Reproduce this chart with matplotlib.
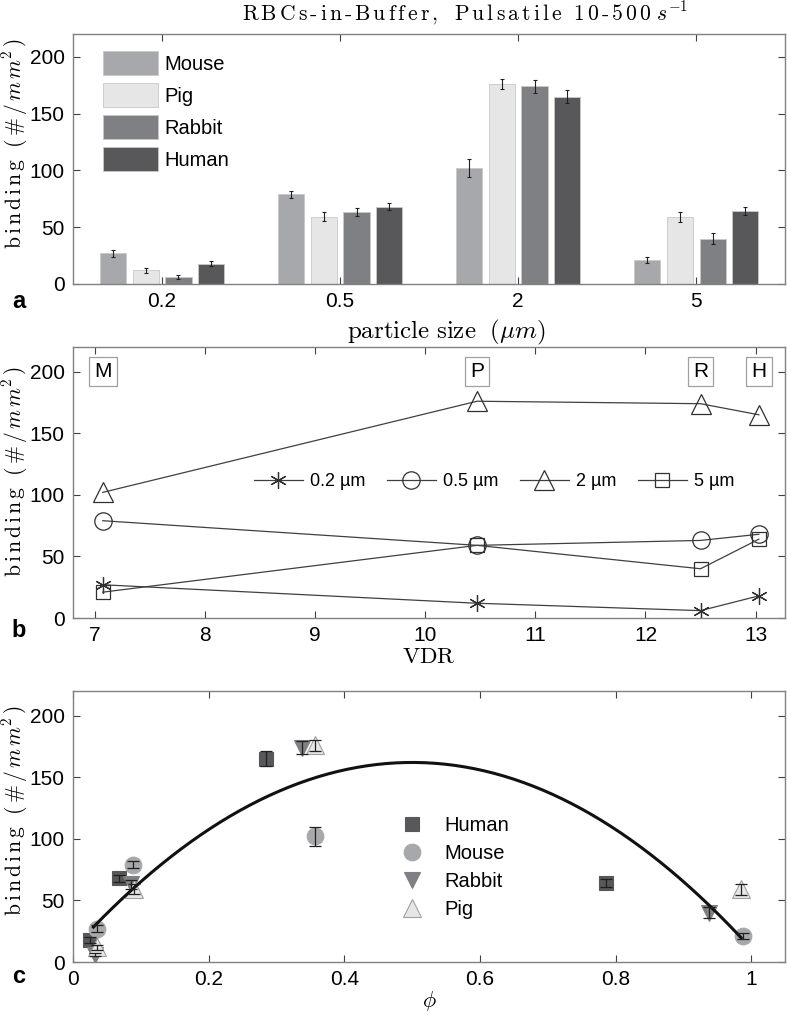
import numpy as np
import matplotlib.pyplot as plt

plt.rcParams['font.family'] = ['Liberation Sans', 'DejaVu Sans']
plt.rcParams['mathtext.fontset'] = 'cm'

# data (order of particle sizes: 0.2, 0.5, 2, 5 um)
sizes = ['0.2', '0.5', '2', '5']
species = ['Mouse', 'Pig', 'Rabbit', 'Human']
mouse = [27, 79, 102, 21]
pig = [12, 59, 176, 59]
rabbit = [6, 63, 174, 40]
human = [18, 68, 165, 64]
mouse_err = [3, 3, 8, 2.5]
pig_err = [2, 4, 4.5, 4.5]
rabbit_err = [1.5, 3.5, 5.5, 4.5]
human_err = [2.5, 3, 6, 3.5]

# VDR of each species (M, P, R, H)
vdr_labels = ['M', 'P', 'R', 'H']
vdr = [7.07, 10.47, 12.5, 13.03]

# phi per species and particle size
mouse_phi = [0.035, 0.088, 0.357, 0.987]
pig_phi = [0.036, 0.09, 0.357, 0.985]
rabbit_phi = [0.033, 0.085, 0.338, 0.938]
human_phi = [0.025, 0.068, 0.284, 0.785]

# quadratic fit (binding = a*phi^2 + b*phi + c)
fit_coef = [-605, 605, 10.75]
fit_range = [0.03, 0.985]

colors = {'Mouse': '#a7a8ab', 'Pig': '#e6e6e6', 'Rabbit': '#7f8084', 'Human': '#58585a'}
vals = {'Mouse': mouse, 'Pig': pig, 'Rabbit': rabbit, 'Human': human}
errs = {'Mouse': mouse_err, 'Pig': pig_err, 'Rabbit': rabbit_err, 'Human': human_err}
phis = {'Mouse': mouse_phi, 'Pig': pig_phi, 'Rabbit': rabbit_phi, 'Human': human_phi}

spine_col = '#808080'


def spaced(text, gap=r'\,'):
    # letter-spaced roman text for mathtext
    words = []
    for w in text.split(' '):
        words.append(gap.join(r'\text{-}' if c == '-' else c for c in w))
    return r'\ \ '.join(words)


ylab = r'$\mathrm{' + spaced('binding') + r'}\ \ (\,\#\,/\,m\,m^2\,)$'


def style(ax, ly):
    for s in ax.spines.values():
        s.set_color(spine_col)
        s.set_linewidth(1.0)
    ax.tick_params(direction='in', top=True, right=True, length=5,
                   color='#404040', labelsize=15, pad=6)
    ax.set_ylim(0, 220)
    ax.set_yticks([0, 50, 100, 150, 200])
    ax.set_ylabel(ylab, fontsize=15.5)
    ax.yaxis.set_label_coords(-0.061, ly)


fig = plt.figure(figsize=(7.87, 10.15), dpi=100)

# ---- panel a
ax1 = fig.add_axes([0.0928, 0.7202, 0.905, 0.2463])
x = np.arange(1, 5)
w = 0.147
step = 0.184
for i, sp in enumerate(species):
    pos = x + (i - 1.5) * step
    ax1.bar(pos, vals[sp], w, color=colors[sp], edgecolor='#c8c8c8',
            linewidth=0.6, label=sp)
    ax1.errorbar(pos, vals[sp], yerr=errs[sp], fmt='none', ecolor='#202020',
                 elinewidth=0.8, capsize=1.5, capthick=0.8)
ax1.set_xlim(0.5, 4.5)
ax1.set_xticks(x)
ax1.set_xticklabels(sizes)
style(ax1, 0.562)
ax1.set_xlabel(r'$\mathrm{particle\ size}\ \ (\mu m)$', fontsize=18, labelpad=0)
ax1.xaxis.set_label_coords(0.524, -0.135)
ax1.set_title(r'$\mathrm{' + spaced('RBCs-in-Buffer, Pulsatile 10-500') + r'}\ s^{-1}$',
              fontsize=15.5, pad=10, x=0.55)
ax1.legend(loc='upper left', frameon=False, fontsize=14.5, handlelength=2.75,
           handleheight=1.45, labelspacing=0.4, handletextpad=0.3,
           borderaxespad=0, borderpad=0, bbox_to_anchor=(30 / 712, 1 - 17 / 250))
fig.text(0.015, 0.697, 'a', fontsize=17, fontweight='bold')

# ---- panel b
ax2 = fig.add_axes([0.0928, 0.3911, 0.905, 0.267])
markers_b = [(6, 2, 0), 'o', '^', 's']
msizes = [12, 12.5, 14.5, 10]
for j, s in enumerate(sizes):
    yv = [vals[sp][j] for sp in ['Mouse', 'Pig', 'Rabbit', 'Human']]
    ax2.plot(vdr, yv, color='#404040', lw=0.9, marker=markers_b[j],
             markersize=msizes[j], markerfacecolor='none',
             markeredgewidth=0.9, markeredgecolor='#303030',
             label=s + ' µm')
for lab, xv in zip(vdr_labels, vdr):
    ax2.text(xv, 200, lab, ha='center', va='center', fontsize=15,
             bbox=dict(boxstyle='square,pad=0.25', fc='white', ec='#a0a0a0', lw=0.9))
ax2.set_xlim(6.8, 13.27)
ax2.set_xticks(range(7, 14))
style(ax2, 0.54)
ax2.set_xlabel(r'$\mathrm{VDR}$', fontsize=16.5, labelpad=0)
ax2.legend(loc='center', bbox_to_anchor=(0.591, 0.503), ncol=4, frameon=False,
           fontsize=13, handlelength=2.7, handletextpad=0.4, columnspacing=1.2)
fig.text(0.015, 0.372, 'b', fontsize=17, fontweight='bold')

# ---- panel c
ax3 = fig.add_axes([0.0928, 0.0522, 0.905, 0.267])
px = np.linspace(fit_range[0], fit_range[1], 200)
ax3.plot(px, np.polyval(fit_coef, px), color='#111111', lw=2.2, zorder=3)
mk_c = {'Human': 's', 'Mouse': 'o', 'Rabbit': 'v', 'Pig': '^'}
ms_c = {'Human': 10, 'Mouse': 12, 'Rabbit': 12, 'Pig': 13}
ec_c = {'Human': '#58585a', 'Mouse': '#a7a8ab', 'Rabbit': '#7f8084', 'Pig': '#a0a0a0'}
for sp in ['Human', 'Mouse', 'Rabbit', 'Pig']:
    ax3.plot(phis[sp], vals[sp], ls='none', marker=mk_c[sp], markersize=ms_c[sp],
             color=colors[sp], markeredgecolor=ec_c[sp], markeredgewidth=0.8,
             label=sp, zorder=2)
    ax3.errorbar(phis[sp], vals[sp], yerr=errs[sp], fmt='none', ecolor='#202020',
                 elinewidth=0.9, capsize=4, capthick=0.9, zorder=4)
ax3.set_xlim(0, 1.05)
ax3.set_xticks([0, 0.2, 0.4, 0.6, 0.8, 1])
ax3.set_xticklabels(['0', '0.2', '0.4', '0.6', '0.8', '1'])
style(ax3, 0.559)
ax3.set_xlabel(r'$\phi$', fontsize=16, labelpad=0)
ax3.legend(loc='upper left', bbox_to_anchor=(0.455, 0.539), frameon=False,
           fontsize=14.5, handletextpad=0.85, labelspacing=0.45, handlelength=1.5,
           borderaxespad=0, borderpad=0)
fig.text(0.015, 0.032, 'c', fontsize=17, fontweight='bold')

fig.savefig('out.png', dpi=100)
